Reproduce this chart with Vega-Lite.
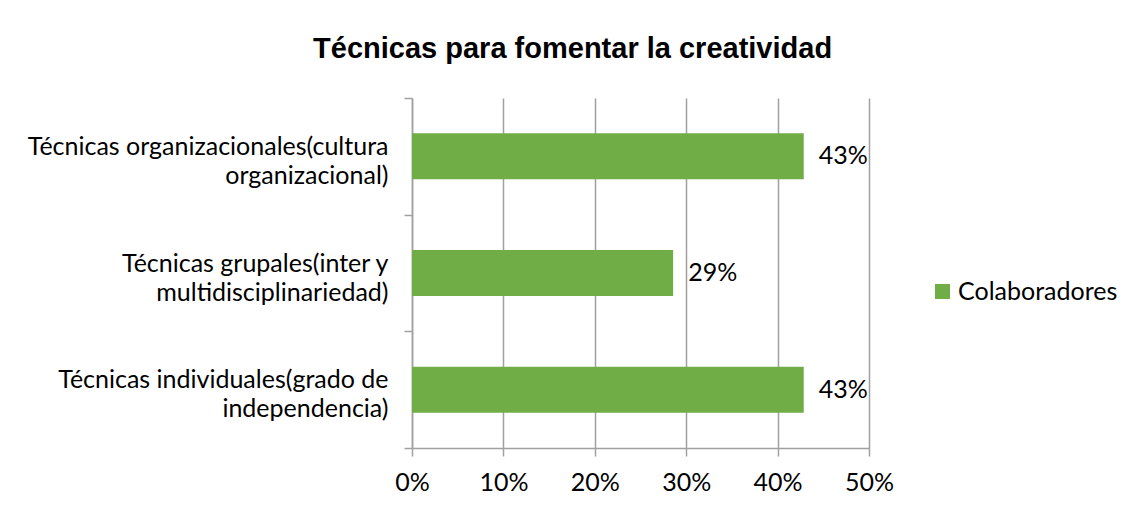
{
  "$schema": "https://vega.github.io/schema/vega-lite/v6.json",
  "width": 457,
  "height": 350,
  "autosize": {"type": "none"},
  "padding": {"left": 412, "top": 98, "right": 261, "bottom": 60},
  "background": "white",
  "title": {
    "text": "Técnicas para fomentar la creatividad",
    "font": "Liberation Sans",
    "fontSize": 29,
    "fontWeight": "bold",
    "color": "#000000",
    "anchor": "middle",
    "frame": "bounds",
    "offset": 22
  },
  "data": {
    "values": [
      {"tecnica": "Técnicas organizacionales(cultura organizacional)", "serie": "Colaboradores", "valor": 0.4286},
      {"tecnica": "Técnicas grupales(inter y multidisciplinariedad)", "serie": "Colaboradores", "valor": 0.2857},
      {"tecnica": "Técnicas individuales(grado de independencia)", "serie": "Colaboradores", "valor": 0.4286}
    ]
  },
  "encoding": {
    "y": {
      "field": "tecnica",
      "type": "nominal",
      "sort": null,
      "scale": {"paddingInner": 0, "paddingOuter": 0},
      "axis": {
        "title": null,
        "tickBand": "extent",
        "tickSize": 8,
        "tickColor": "#A0A0A0",
        "tickWidth": 1.5,
        "domainColor": "#A0A0A0",
        "domainWidth": 1.5,
        "labelAlign": "right",
        "labelBaseline": "middle",
        "labelOffset": -10,
        "labelPadding": 16,
        "labelFont": "Lato",
        "labelFontSize": 25,
        "labelColor": "#000000",
        "labelLineHeight": 29,
        "labelLimit": 500,
        "labelExpr": "isString(datum.value) && lastindexof(datum.value, ' ') > 0 ? [substring(datum.value, 0, lastindexof(datum.value, ' ')), substring(datum.value, lastindexof(datum.value, ' ') + 1)] : ''"
      }
    },
    "x": {
      "field": "valor",
      "type": "quantitative",
      "scale": {"domain": [0, 0.5], "nice": false},
      "axis": {
        "title": null,
        "format": ".0%",
        "values": [0, 0.1, 0.2, 0.3, 0.4, 0.5],
        "grid": true,
        "gridColor": "#A0A0A0",
        "gridWidth": 1.5,
        "tickSize": 8,
        "tickColor": "#A0A0A0",
        "tickWidth": 1.5,
        "domainColor": "#A0A0A0",
        "domainWidth": 1.5,
        "labelFlush": false,
        "labelFont": "Lato",
        "labelFontSize": 25,
        "labelColor": "#000000",
        "labelPadding": 14
      }
    }
  },
  "layer": [
    {
      "mark": {"type": "bar", "size": 46},
      "encoding": {
        "color": {
          "field": "serie",
          "type": "nominal",
          "scale": {"range": ["#70AD47"]},
          "legend": {
            "title": null,
            "orient": "none",
            "legendX": 518,
            "legendY": 181,
            "symbolType": "square",
            "symbolSize": 225,
            "symbolStrokeWidth": 0,
            "labelFont": "Lato",
            "labelFontSize": 25,
            "labelColor": "#000000",
            "labelOffset": 3,
            "padding": 0
          }
        }
      }
    },
    {
      "mark": {"type": "text", "align": "left", "baseline": "middle", "dx": 15, "font": "Lato", "fontSize": 25, "color": "#000000"},
      "encoding": {
        "text": {"field": "valor", "type": "quantitative", "format": ".0%"}
      }
    }
  ],
  "config": {
    "view": {"stroke": null}
  }
}
